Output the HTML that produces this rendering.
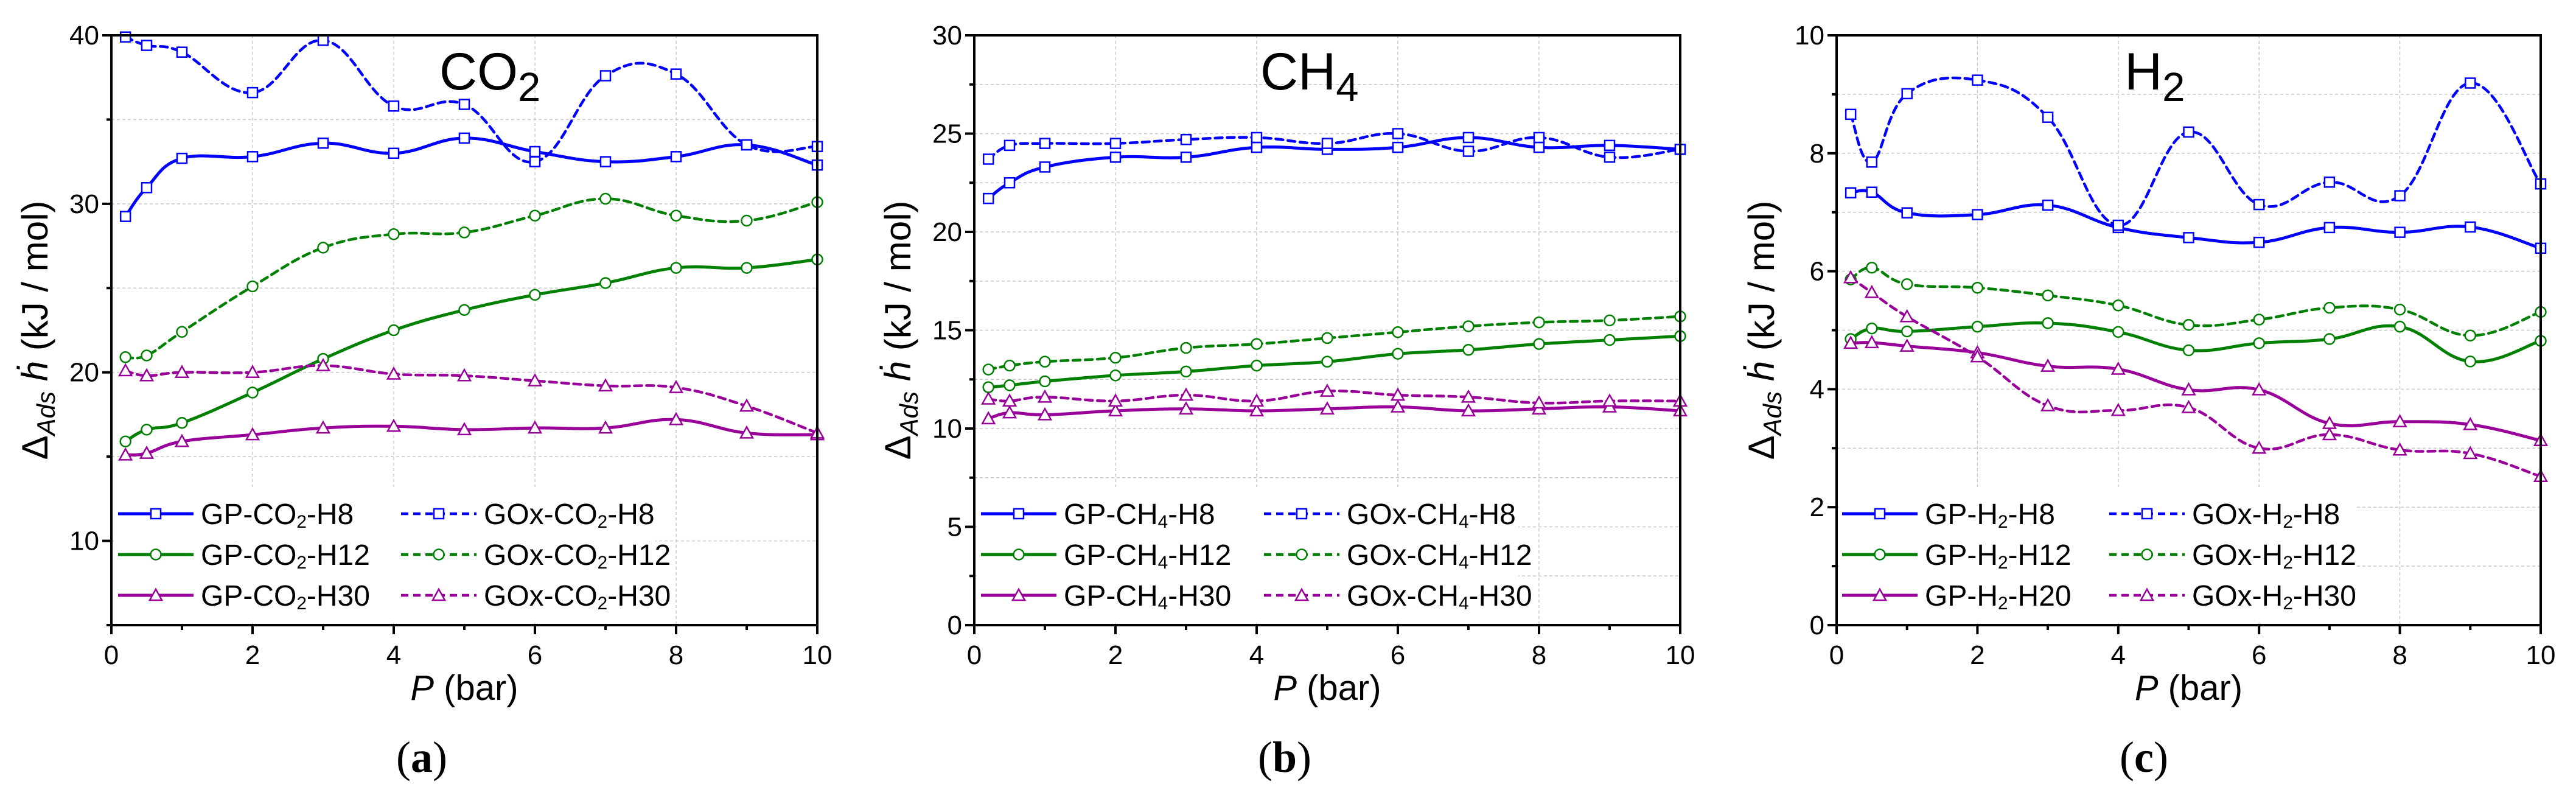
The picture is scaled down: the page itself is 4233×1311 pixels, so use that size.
<!DOCTYPE html>
<html><head><meta charset="utf-8"><style>
html,body{margin:0;padding:0;background:#fff;}
svg{display:block;font-family:"Liberation Sans",sans-serif;}
</style></head>
<body>
<svg id="chart" width="4233" height="1311" viewBox="0 0 4233 1311" xmlns="http://www.w3.org/2000/svg"></svg>
<script>
const pressures = [0.2, 0.5, 1, 2, 3, 4, 5, 6, 7, 8, 9, 10];
// Panel a: CO2
const co2GpH8   = [29.25,30.96,32.7,32.8,33.6,33.0,33.9,33.1,32.5,32.8,33.5,32.3];
const co2GoxH8  = [39.9,39.4,39.0,36.6,39.7,35.8,35.9,32.5,37.6,37.7,33.5,33.4];
const co2GpH12  = [15.9,16.6,17.0,18.8,20.8,22.5,23.7,24.6,25.3,26.2,26.2,26.7];
const co2GoxH12 = [20.9,21.0,22.4,25.1,27.4,28.2,28.3,29.3,30.3,29.3,29.0,30.1];
const co2GpH30  = [15.1,15.2,15.9,16.3,16.7,16.8,16.6,16.7,16.7,17.2,16.4,16.3];
const co2GoxH30 = [20.1,19.8,20.0,20.0,20.4,19.9,19.8,19.5,19.2,19.1,18.0,16.4];
// Panel b: CH4
const ch4GpH8   = [21.7,22.5,23.3,23.8,23.8,24.3,24.2,24.3,24.8,24.3,24.4,24.2];
const ch4GoxH8  = [23.7,24.4,24.5,24.5,24.7,24.8,24.5,25.0,24.1,24.8,23.8,24.2];
const ch4GpH12  = [12.1,12.2,12.4,12.7,12.9,13.2,13.4,13.8,14.0,14.3,14.5,14.7];
const ch4GoxH12 = [13.0,13.2,13.4,13.6,14.1,14.3,14.6,14.9,15.2,15.4,15.5,15.7];
const ch4GpH30  = [10.5,10.8,10.7,10.9,11.0,10.9,11.0,11.1,10.9,11.0,11.1,10.9];
const ch4GoxH30 = [11.5,11.4,11.6,11.4,11.7,11.4,11.9,11.7,11.6,11.3,11.4,11.4];
// Panel c: H2
const h2GpH8   = [7.33,7.34,6.99,6.96,7.12,6.74,6.57,6.49,6.74,6.66,6.75,6.39];
const h2GoxH8  = [8.66,7.85,9.01,9.24,8.61,6.78,8.36,7.13,7.51,7.28,9.19,7.48];
const h2GpH12  = [4.85,5.03,4.98,5.06,5.12,4.97,4.66,4.78,4.85,5.06,4.47,4.82];
const h2GoxH12 = [5.86,6.06,5.78,5.72,5.59,5.42,5.09,5.18,5.38,5.35,4.91,5.31];
const h2GpH20  = [4.78,4.79,4.73,4.62,4.39,4.34,3.99,3.99,3.42,3.45,3.40,3.13];
const h2GoxH30 = [5.89,5.64,5.23,4.55,3.72,3.64,3.69,3.00,3.23,2.97,2.91,2.52];
// Axis ticks
const xTicks = [0,2,4,6,8,10];
const yTicksA = [10,20,30,40];
const yTicksB = [0,5,10,15,20,25,30];
const yTicksC = [0,2,4,6,8,10];

const NS = "http://www.w3.org/2000/svg";
const svg = document.getElementById('chart');
function mk(tag, attrs, parent){
  const e = document.createElementNS(NS, tag);
  for (const k in attrs) e.setAttribute(k, attrs[k]);
  (parent||svg).appendChild(e);
  return e;
}
const BLUE="#0000ff", GREEN="#008000", PURPLE="#990099";

function smoothPath(pts){
  let d = `M${pts[0][0]},${pts[0][1]}`;
  for (let i=0;i<pts.length-1;i++){
    const p0=pts[Math.max(0,i-1)], p1=pts[i], p2=pts[i+1], p3=pts[Math.min(pts.length-1,i+2)];
    const t=5;
    const c1=[p1[0]+(p2[0]-p0[0])/t, p1[1]+(p2[1]-p0[1])/t];
    const c2=[p2[0]-(p3[0]-p1[0])/t, p2[1]-(p3[1]-p1[1])/t];
    d += ` C${c1[0]},${c1[1]} ${c2[0]},${c2[1]} ${p2[0]},${p2[1]}`;
  }
  return d;
}
function marker(g, shape, cx, cy, color){
  let m;
  if (shape==='square') m = mk('rect',{x:cx-8,y:cy-8,width:16,height:16,fill:'#fff',stroke:color,'stroke-width':2.5},g);
  else if (shape==='circle') m = mk('circle',{cx:cx,cy:cy,r:8.5,fill:'#fff',stroke:color,'stroke-width':2.5},g);
  else m = mk('polygon',{points:`${cx},${cy-10} ${cx+10},${cy+8} ${cx-10},${cy+8}`,fill:'#fff',stroke:color,'stroke-width':2.5},g);
  return m;
}
function subText(parent, x, y, parts, size, anchor, subScale, subDy){
  const ss = subScale||0.62, sd = subDy||0.12;
  const t = mk('text',{x:x,y:y,'font-size':size,fill:'#000','text-anchor':anchor||'start'},parent);
  parts.forEach(p=>{
    const s = document.createElementNS(NS,'tspan');
    if (p.sub){ s.setAttribute('font-size', size*ss); s.setAttribute('dy', size*sd); }
    else if (p.back){ s.setAttribute('dy', -size*sd); }
    if (p.italic) s.setAttribute('font-style','italic');
    s.textContent = p.t;
    t.appendChild(s);
  });
  return t;
}

function panel(cfg){
  const g = mk('g',{});
  
  
  const L=cfg.left, R=cfg.left+cfg.width, T=58, B=1027;
  const xs = v => L + (v/10)*(R-L);
  const ys = v => B - (v-cfg.ymin)/(cfg.ymax-cfg.ymin)*(B-T);
  const grid = mk('g',{},g);
  
  
  for (let v=cfg.ymin+cfg.gridStep; v<cfg.ymax-1e-6; v+=cfg.gridStep){
    mk('line',{x1:L,x2:R,y1:ys(v),y2:ys(v),stroke:'#c8c8c8','stroke-width':1.5,'stroke-dasharray':'5,4'},grid);
  }
  for (let v=2; v<10; v+=2){
    mk('line',{x1:xs(v),x2:xs(v),y1:T,y2:B,stroke:'#c8c8c8','stroke-width':1.5,'stroke-dasharray':'5,4'},grid);
  }
  const lbg = mk('rect',{x:L+4,y:cfg.legBgTop,width:cfg.legBgW,height:B-cfg.legBgTop-4,fill:'#fff'},g);
  
  
  const clipId = 'clip-'+cfg.name;
  const cp = mk('clipPath',{id:clipId},g);
  mk('rect',{x:L,y:T-12,width:R-L+12,height:B-T+12},cp);
  cfg.series.forEach(s=>{
    const sg = mk('g',{'clip-path':`url(#${clipId})`},g);
    
    
    const pts = pressures.map((p,i)=>[xs(p), ys(s.data[i])]);
    const path = mk('path',{d:smoothPath(pts),fill:'none',stroke:s.color,'stroke-width':s.dash?4.5:5,'stroke-dasharray':s.dash?'12,8':'none','stroke-linecap':s.dash?'round':'butt'},sg);
    
    
    pts.forEach(pt=>{
      const m = marker(sg, s.shape, pt[0], pt[1], s.color);
      
      
    });
  });
  const fr = mk('rect',{x:L,y:T,width:R-L,height:B-T,fill:'none',stroke:'#000','stroke-width':4},g);
  
  
  const xa = mk('g',{},g);
  
  
  for (let v=0; v<=10; v++){
    const major = v%2===0;
    mk('line',{x1:xs(v),x2:xs(v),y1:B,y2:B+(major?15:8),stroke:'#000','stroke-width':4},xa);
  }
  xTicks.forEach(v=>{
    const t = mk('text',{x:xs(v),y:B+64,'font-size':44,'text-anchor':'middle',fill:'#000'},xa);
    
    
    t.textContent = v;
  });
  const xt = subText(xa, (L+R)/2, 1150, [{t:'P',italic:true},{t:' (bar)'}], 58, 'middle');
  
  
  const ya = mk('g',{},g);
  
  
  for (let v=cfg.ymin; v<=cfg.ymax+1e-6; v+=cfg.minorStep){
    const major = cfg.yTicks.some(t=>Math.abs(t-v)<1e-6);
    mk('line',{x1:L-(major?15:8),x2:L,y1:ys(v),y2:ys(v),stroke:'#000','stroke-width':4},ya);
  }
  cfg.yTicks.forEach(v=>{
    const t = mk('text',{x:L-20,y:ys(v)+15,'font-size':44,'text-anchor':'end',fill:'#000'},ya);
    
    
    t.textContent = v;
  });
  const yt = mk('text',{x:0,y:0,'font-size':60,'text-anchor':'middle',fill:'#000',transform:`translate(${cfg.ytitleX},${(T+B)/2}) rotate(-90)`},ya);
  
  
  yt.innerHTML = '<tspan>Δ</tspan><tspan font-size="42" font-style="italic" dy="12">Ads</tspan><tspan dy="-12" font-style="italic"> ḣ</tspan><tspan> (kJ / mol)</tspan>';
  const an = subText(g, cfg.annX, 147, [{t:cfg.gas},{t:cfg.gasSub,sub:true}], 86, 'start', 0.78, 0.22);
  
  
  const lg = mk('g',{},g);
  
  
  cfg.series.forEach((s,i)=>{
    const col = i%2, row = Math.floor(i/2);
    const x0 = col===0 ? cfg.legX1 : cfg.legX2;
    const y0 = 844 + row*67;
    const e = mk('g',{},lg);
    
    
    mk('line',{x1:x0,x2:x0+124,y1:y0,y2:y0,stroke:s.color,'stroke-width':s.dash?4.5:5,'stroke-dasharray':s.dash?'12,8':'none'},e);
    marker(e, s.shape, x0+62, y0, s.color);
    subText(e, x0+136, y0+17, s.label, 48);
  });
  const pl = mk('text',{x:cfg.letterX,y:1268,'font-size':72,'text-anchor':'middle',fill:'#000','font-family':'"Liberation Serif",serif'},g);
  
  
  pl.innerHTML = '(<tspan font-weight="bold">'+cfg.letter+'</tspan>)';
}
function lab(pre, sub, post){ return [{t:pre},{t:sub,sub:true},{t:post,back:true}]; }

panel({name:'panel-a-co2', left:183, width:1160, ymin:5, ymax:40, gridStep:5, minorStep:5, yTicks:yTicksA,
  ytitleX:78, annX:722, gas:'CO', gasSub:'2', legX1:194, legX2:659, legBgTop:800, legBgW:890, letterX:693, letter:'a',
  series:[
    {id:'gp-co2-h8', data:co2GpH8, color:BLUE, shape:'square', dash:false, label:lab('GP-CO','2','-H8')},
    {id:'gox-co2-h8', data:co2GoxH8, color:BLUE, shape:'square', dash:true, label:lab('GOx-CO','2','-H8')},
    {id:'gp-co2-h12', data:co2GpH12, color:GREEN, shape:'circle', dash:false, label:lab('GP-CO','2','-H12')},
    {id:'gox-co2-h12', data:co2GoxH12, color:GREEN, shape:'circle', dash:true, label:lab('GOx-CO','2','-H12')},
    {id:'gp-co2-h30', data:co2GpH30, color:PURPLE, shape:'triangle', dash:false, label:lab('GP-CO','2','-H30')},
    {id:'gox-co2-h30', data:co2GoxH30, color:PURPLE, shape:'triangle', dash:true, label:lab('GOx-CO','2','-H30')}
  ]});
panel({name:'panel-b-ch4', left:1601, width:1160, ymin:0, ymax:30, gridStep:2.5, minorStep:2.5, yTicks:yTicksB,
  ytitleX:1496, annX:2071, gas:'CH', gasSub:'4', legX1:1612, legX2:2077, legBgTop:800, legBgW:890, letterX:2111, letter:'b',
  series:[
    {id:'gp-ch4-h8', data:ch4GpH8, color:BLUE, shape:'square', dash:false, label:lab('GP-CH','4','-H8')},
    {id:'gox-ch4-h8', data:ch4GoxH8, color:BLUE, shape:'square', dash:true, label:lab('GOx-CH','4','-H8')},
    {id:'gp-ch4-h12', data:ch4GpH12, color:GREEN, shape:'circle', dash:false, label:lab('GP-CH','4','-H12')},
    {id:'gox-ch4-h12', data:ch4GoxH12, color:GREEN, shape:'circle', dash:true, label:lab('GOx-CH','4','-H12')},
    {id:'gp-ch4-h30', data:ch4GpH30, color:PURPLE, shape:'triangle', dash:false, label:lab('GP-CH','4','-H30')},
    {id:'gox-ch4-h30', data:ch4GoxH30, color:PURPLE, shape:'triangle', dash:true, label:lab('GOx-CH','4','-H30')}
  ]});
panel({name:'panel-c-h2', left:3018, width:1157, ymin:0, ymax:10, gridStep:1, minorStep:1, yTicks:yTicksC,
  ytitleX:2915, annX:3491, gas:'H', gasSub:'2', legX1:3027, legX2:3466, legBgTop:800, legBgW:850, letterX:3523, letter:'c',
  series:[
    {id:'gp-h2-h8', data:h2GpH8, color:BLUE, shape:'square', dash:false, label:lab('GP-H','2','-H8')},
    {id:'gox-h2-h8', data:h2GoxH8, color:BLUE, shape:'square', dash:true, label:lab('GOx-H','2','-H8')},
    {id:'gp-h2-h12', data:h2GpH12, color:GREEN, shape:'circle', dash:false, label:lab('GP-H','2','-H12')},
    {id:'gox-h2-h12', data:h2GoxH12, color:GREEN, shape:'circle', dash:true, label:lab('GOx-H','2','-H12')},
    {id:'gp-h2-h20', data:h2GpH20, color:PURPLE, shape:'triangle', dash:false, label:lab('GP-H','2','-H20')},
    {id:'gox-h2-h30', data:h2GoxH30, color:PURPLE, shape:'triangle', dash:true, label:lab('GOx-H','2','-H30')}
  ]});
</script>
</body></html>
